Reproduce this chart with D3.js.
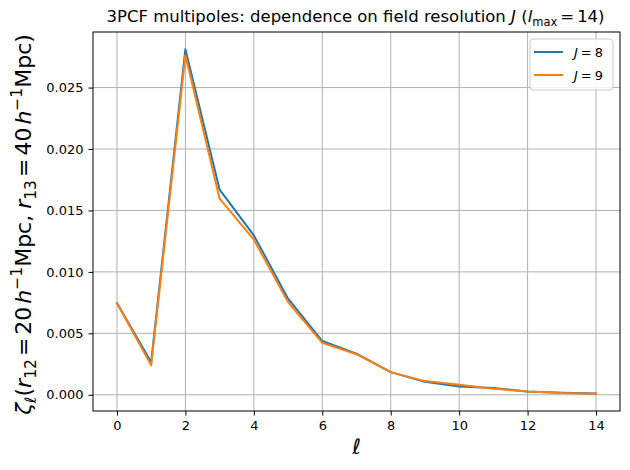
<!DOCTYPE html>
<html>
<head>
<meta charset="utf-8">
<script src="https://cdn.jsdelivr.net/npm/d3@7"></script>
<style>
  body { margin: 0; background: #fff; }
  svg text { font-family: "DejaVu Sans", sans-serif; fill: #000; }
</style>
</head>
<body>
<svg id="chart" width="630" height="470"></svg>
<script>
// multipole index
var ell = [0, 1, 2, 3, 4, 5, 6, 7, 8, 9, 10, 11, 12, 13, 14];
// zeta_ell for J = 8 and J = 9
var zetaJ8 = [0.00746, 0.00265, 0.02812, 0.01669, 0.01297, 0.00782, 0.00437, 0.00334, 0.00184, 0.00105, 0.00068, 0.00054, 0.00027, 0.00016, 0.00010];
var zetaJ9 = [0.00746, 0.00239, 0.02763, 0.01596, 0.01262, 0.00754, 0.00423, 0.00330, 0.00184, 0.00111, 0.00081, 0.00048, 0.00027, 0.00014, 0.00008];
var seriesNames = ["8", "9"];
var xTicks = [0, 2, 4, 6, 8, 10, 12, 14];
var yTicks = [0.000, 0.005, 0.010, 0.015, 0.020, 0.025];

var colors = ["#1f77b4", "#ff7f0e"];
var svg = d3.select("#chart");
var margin = { left: 93, right: 10, top: 32, bottom: 59 };
var width = 630 - margin.left - margin.right;
var height = 470 - margin.top - margin.bottom;

var g = svg.append("g").attr("transform", "translate(" + margin.left + "," + margin.top + ")");

// matplotlib style 5% margins
var xmin = d3.min(ell), xmax = d3.max(ell);
var xpad = (xmax - xmin) * 0.05;
var allY = zetaJ8.concat(zetaJ9);
var ymin = d3.min(allY), ymax = d3.max(allY);
var ypad = (ymax - ymin) * 0.05;

var scalex = d3.scaleLinear().domain([xmin - xpad, xmax + xpad]).range([0, width]);
var scaley = d3.scaleLinear().domain([ymin - ypad, ymax + ypad]).range([height, 0]);

// grid
g.append("g").selectAll("line.vg").data(xTicks).enter().append("line")
  .attr("x1", function (d) { return scalex(d); }).attr("x2", function (d) { return scalex(d); })
  .attr("y1", 0).attr("y2", height)
  .style("stroke", "#b0b0b0").style("stroke-width", 1);
g.append("g").selectAll("line.hg").data(yTicks).enter().append("line")
  .attr("y1", function (d) { return scaley(d); }).attr("y2", function (d) { return scaley(d); })
  .attr("x1", 0).attr("x2", width)
  .style("stroke", "#b0b0b0").style("stroke-width", 1);

// series
var series = [zetaJ8, zetaJ9];
var line = d3.line()
  .x(function (d, i) { return scalex(ell[i]); })
  .y(function (d) { return scaley(d); });
series.forEach(function (s, i) {
  g.append("path").datum(s)
    .attr("d", line)
    .style("fill", "none").style("stroke", colors[i]).style("stroke-width", 2)
    .style("stroke-linejoin", "round").style("stroke-linecap", "square");
});

// axes
var xAxis = g.append("g").attr("transform", "translate(0," + height + ")")
  .call(d3.axisBottom(scalex).tickValues(xTicks).tickSize(4.5).tickPadding(5).tickFormat(d3.format("d")));
var yAxis = g.append("g")
  .call(d3.axisLeft(scaley).tickValues(yTicks).tickSize(4.5).tickPadding(5).tickFormat(d3.format(".3f")));
[xAxis, yAxis].forEach(function (a) {
  a.select(".domain").remove();
  a.selectAll("line").style("stroke", "#000").style("stroke-width", 1);
  a.selectAll("text").style("font-family", "DejaVu Sans").style("font-size", "13px").style("fill", "#000");
});

// frame
g.append("rect").attr("width", width).attr("height", height)
  .style("fill", "none").style("stroke", "#000").style("stroke-width", 1);

// title
var title = svg.append("text")
  .attr("x", margin.left + width / 2 - 1).attr("y", 22)
  .attr("text-anchor", "middle").style("font-size", "16.5px");
title.append("tspan").text("3PCF multipoles: dependence on field resolution ");
title.append("tspan").style("font-style", "italic").text("J");
title.append("tspan").text(" (");
title.append("tspan").style("font-style", "italic").text("l");
title.append("tspan").attr("dy", 3.5).style("font-size", "11.5px").text("max");
title.append("tspan").attr("dy", -3.5).attr("dx", 3).text("=");
title.append("tspan").attr("dx", 3).text("14)");

// x label
svg.append("text")
  .attr("x", margin.left + width / 2).attr("y", 454)
  .attr("text-anchor", "middle").style("font-size", "21px").style("font-style", "italic")
  .text("ℓ");

// y label (mathtext-like)
var ylab = svg.append("text")
  .attr("transform", "translate(31," + (margin.top + height / 2 + 3) + ") rotate(-90)")
  .attr("text-anchor", "middle").style("font-size", "22px");
var parts = [
  { t: "ζ", it: true }, { t: "ℓ", it: true, sub: true }, { t: "(" },
  { t: "r", it: true }, { t: "12", sub: true }, { t: "=", dx: 3 }, { t: "20", dx: 3 },
  { t: "h", it: true, dx: 3 }, { t: "−1", sup: true }, { t: "Mpc," },
  { t: "r", it: true, dx: 6 }, { t: "13", sub: true }, { t: "=", dx: 3 }, { t: "40", dx: 3 },
  { t: "h", it: true, dx: 3 }, { t: "−1", sup: true }, { t: "Mpc)" }
];
var shift = 0;
parts.forEach(function (p) {
  var target = p.sub ? 5 : (p.sup ? -9 : 0);
  var ts = ylab.append("tspan").attr("dy", target - shift).text(p.t);
  if (p.dx) ts.attr("dx", p.dx);
  shift = target;
  if (p.it) ts.style("font-style", "italic");
  if (p.sub || p.sup) ts.style("font-size", "15.5px");
});

// legend
var lg = g.append("g").attr("transform", "translate(" + (width - 90) + ",7)");
lg.append("rect").attr("width", 83).attr("height", 51).attr("rx", 3)
  .style("fill", "#fff").style("fill-opacity", 0.8).style("stroke", "#ccc").style("stroke-width", 1);
seriesNames.forEach(function (n, i) {
  var yy = 13 + i * 23;
  lg.append("line").attr("x1", 4).attr("x2", 33).attr("y1", yy).attr("y2", yy)
    .style("stroke", colors[i]).style("stroke-width", 2);
  var t = lg.append("text").attr("x", 44).attr("y", yy + 5).style("font-size", "13px");
  t.append("tspan").style("font-style", "italic").text("J");
  t.append("tspan").attr("dx", 3).text("=");
  t.append("tspan").attr("dx", 3).text(n);
});
</script>
</body>
</html>
